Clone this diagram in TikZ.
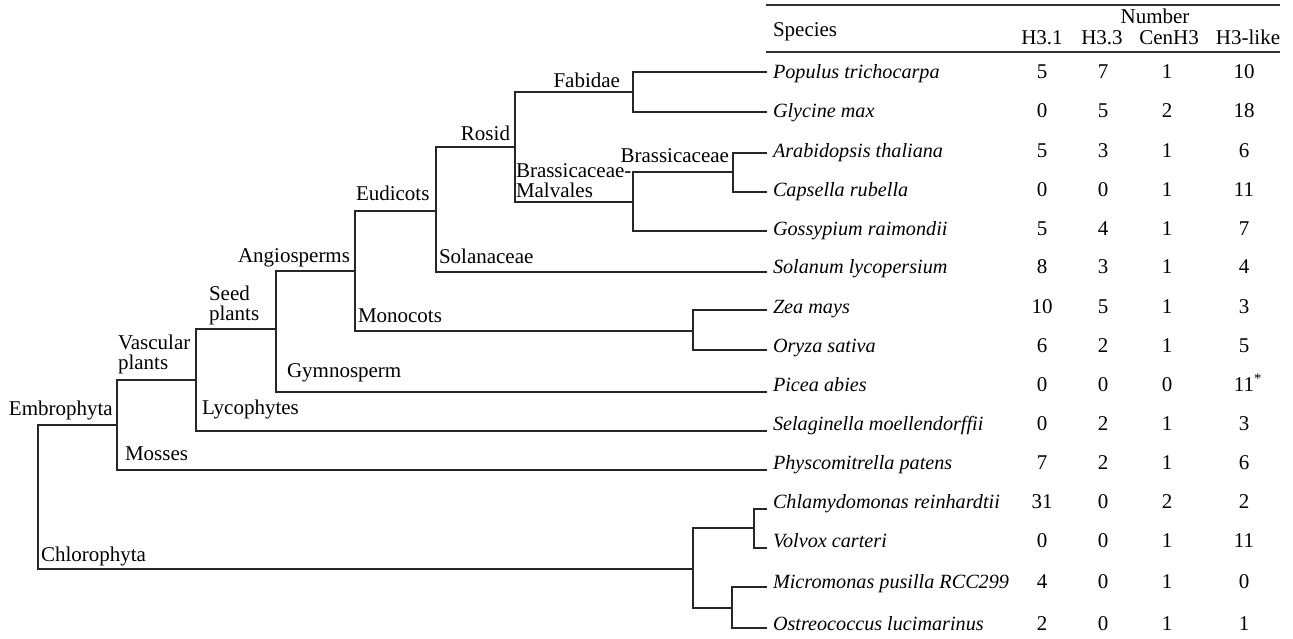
\documentclass[tikz,border=0pt]{standalone}
\usepackage{fontspec}
\setmainfont{Liberation Serif}
\begin{document}
\begin{tikzpicture}[x=1pt,y=-1pt,
  every node/.style={inner sep=0pt,outer sep=0pt,font=\fontsize{21}{19}\selectfont,text=black},
  branch/.style={line width=1.1pt,draw=black!85,line join=miter,line cap=rect},
  rule/.style={line width=1.4pt,draw=black!80},
  lbl/.style={anchor=base west},
  lblr/.style={anchor=base east},
  sp/.style={anchor=base west,font=\fontsize{20.2}{19}\selectfont\itshape},
  num/.style={anchor=base}]
\useasboundingbox (0,0) rectangle (1293,638);

% ---- tree internal nodes (x = vertical line, y = stem) ----
\coordinate (R)  at (38,497);
\coordinate (E)  at (117,425);
\coordinate (Ch) at (693,569);
\coordinate (V)  at (196,380);
\coordinate (S)  at (276,329);
\coordinate (A)  at (355,271);
\coordinate (Eu) at (436,211);
\coordinate (Mn) at (693,331);
\coordinate (Ro) at (515,147);
\coordinate (Fa) at (633,92);
\coordinate (BM) at (633,202);
\coordinate (Br) at (733,172);
\coordinate (CV) at (754,528);
\coordinate (MO) at (732,608);
% ---- leaf ends ----
\coordinate (l1)  at (766,72);
\coordinate (l2)  at (766,112);
\coordinate (l3)  at (766,153);
\coordinate (l4)  at (766,192);
\coordinate (l5)  at (766,231);
\coordinate (l6)  at (766,272);
\coordinate (l7)  at (766,310);
\coordinate (l8)  at (766,350);
\coordinate (l9)  at (766,392);
\coordinate (l10) at (766,431);
\coordinate (l11) at (766,470);
\coordinate (l12) at (766,509);
\coordinate (l13) at (766,548);
\coordinate (l14) at (766,587);
\coordinate (l15) at (766,628);

% ---- branches ----
\draw[branch] (E)  -- (R |- E)  -- (R |- Ch) -- (Ch);
\draw[branch] (V)  -- (E |- V)  -- (E |- l11) -- (l11);
\draw[branch] (S)  -- (V |- S)  -- (V |- l10) -- (l10);
\draw[branch] (A)  -- (S |- A)  -- (S |- l9) -- (l9);
\draw[branch] (Eu) -- (A |- Eu) -- (A |- Mn) -- (Mn);
\draw[branch] (Ro) -- (Eu |- Ro) -- (Eu |- l6) -- (l6);
\draw[branch] (Fa) -- (Ro |- Fa) -- (Ro |- BM) -- (BM);
\draw[branch] (l1) -- (Fa |- l1) -- (Fa |- l2) -- (l2);
\draw[branch] (Br) -- (BM |- Br) -- (BM |- l5) -- (l5);
\draw[branch] (l3) -- (Br |- l3) -- (Br |- l4) -- (l4);
\draw[branch] (l7) -- (Mn |- l7) -- (Mn |- l8) -- (l8);
\draw[branch] (CV) -- (Ch |- CV) -- (Ch |- MO) -- (MO);
\draw[branch] (l12) -- (CV |- l12) -- (CV |- l13) -- (l13);
\draw[branch] (l14) -- (MO |- l14) -- (MO |- l15) -- (l15);

% ---- clade labels ----
\node[lblr] (tFa) at (620,87) {Fabidae};
\node[lblr] (tRo) at (510,140) {Rosid};
\node[lbl]  (tEu) at (356,200) {Eudicots};
\node[lblr] (tBr) at (729,162) {Brassicaceae};
\node[lbl]  (tBM) at (516,177) {\begin{tabular}[t]{@{}l@{}}Brassicaceae-\\Malvales\end{tabular}};
\node[lbl]  (tSo) at (439,263) {Solanaceae};
\node[lbl]  (tMn) at (358,322) {Monocots};
\node[lblr] (tAn) at (350,262) {Angiosperms};
\node[lbl]  (tSe) at (209,300) {\begin{tabular}[t]{@{}l@{}}Seed\\plants\end{tabular}};
\node[lbl]  (tGy) at (287,377) {Gymnosperm};
\node[lbl]  (tVa) at (118,349) {\begin{tabular}[t]{@{}l@{}}Vascular\\plants\end{tabular}};
\node[lbl]  (tEm) at (9,415) {Embrophyta};
\node[lbl]  (tLy) at (202,414) {Lycophytes};
\node[lbl]  (tMo) at (125,460) {Mosses};
\node[lbl]  (tCh) at (41,561) {Chlorophyta};

% ---- table header ----
\draw[rule] (766,5) coordinate (rt1) -- (1280,5) coordinate (rt2);
\draw[rule] (766,52) coordinate (rb1) -- (1280,52) coordinate (rb2);
\node[lbl] (hSp) at (773,36) {Species};
\node[num] (hNu) at (1155,23) {Number};
\node[num] (h1) at (1042,44) {H3.1};
\node[num] (h2) at (1102,44) {H3.3};
\node[num] (h3) at (1169,44) {CenH3};
\node[num] (h4) at (1248,44) {H3-like};

% ---- table rows ----
\foreach \i/\nm/\a/\b/\c/\d/\yb in {
  1/Populus trichocarpa/5/7/1/10/78,
  2/Glycine max/0/5/2/18/117,
  3/Arabidopsis thaliana/5/3/1/6/157,
  4/Capsella rubella/0/0/1/11/196,
  5/Gossypium raimondii/5/4/1/7/235,
  6/Solanum lycopersium/8/3/1/4/273,
  7/Zea mays/10/5/1/3/313,
  8/Oryza sativa/6/2/1/5/352,
  9/Picea abies/0/0/0/11\rlap{\textsuperscript{*}}/391,
  10/Selaginella moellendorffii/0/2/1/3/430,
  11/Physcomitrella patens/7/2/1/6/469,
  12/Chlamydomonas reinhardtii/31/0/2/2/508,
  13/Volvox carteri/0/0/1/11/547,
  14/Micromonas pusilla RCC299/4/0/1/0/588,
  15/Ostreococcus lucimarinus/2/0/1/1/630}{
  \node[sp]  (s\i)  at (773,\yb)  {\nm};
  \node[num] (a\i)  at (1042,\yb) {\a};
  \node[num] (b\i)  at (1103,\yb) {\b};
  \node[num] (c\i)  at (1167,\yb) {\c};
  \node[num] (d\i)  at (1244,\yb) {\d};
}
\end{tikzpicture}
\end{document}
